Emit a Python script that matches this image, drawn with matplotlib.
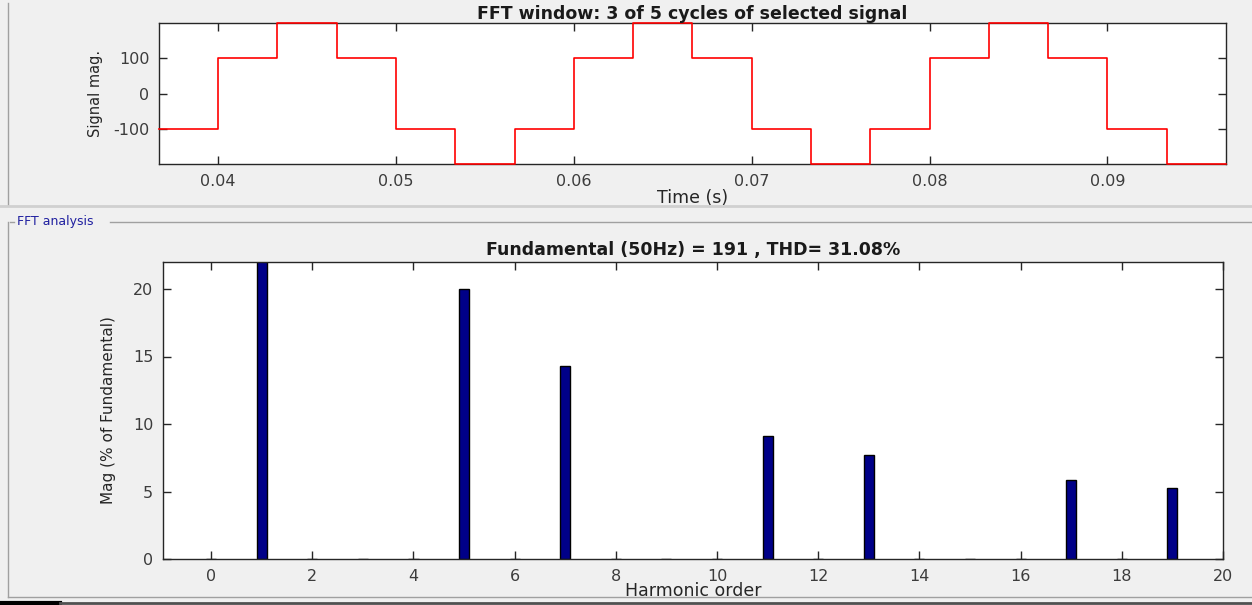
import matplotlib
matplotlib.use('Agg')
import matplotlib.pyplot as plt
from matplotlib.lines import Line2D

plt.rcParams['font.family'] = ['DejaVu Sans']
plt.rcParams['axes.unicode_minus'] = False

# signal in the FFT window (3 cycles of 50 Hz, six-step wave)
step_times = [0.03667, 0.04, 0.04333, 0.04667, 0.05, 0.05333, 0.05667,
              0.06, 0.06333, 0.06667, 0.07, 0.07333, 0.07667,
              0.08, 0.08333, 0.08667, 0.09, 0.09333, 0.09667]
step_levels = [-100, 100, 200, 100, -100, -200, -100,
               100, 200, 100, -100, -200, -100,
               100, 200, 100, -100, -200, -200]
time_ticks = [0.04, 0.05, 0.06, 0.07, 0.08, 0.09]
time_ticklabels = ['0.04', '0.05', '0.06', '0.07', '0.08', '0.09']

# harmonic spectrum, % of fundamental
harm_order = [0, 1, 2, 3, 4, 5, 6, 7, 8, 9, 10, 11, 12, 13, 14, 15, 16, 17, 18, 19]
harm_mag = [0, 100, 0, 0, 0, 20.0, 0, 14.29, 0, 0, 0, 9.09, 0, 7.69, 0, 0, 0, 5.88, 0, 5.26]

W, H = 1252, 605
bg = '#f0f0f0'
axcol = '#262626'
tickcol = '#3c3c3c'

fig = plt.figure(figsize=(W / 100, H / 100), dpi=100, facecolor=bg)


def px(x0, y0, x1, y1):
    return [x0 / W, 1 - y0 / H, (x1 - x0) / W, (y0 - y1) / H]


def style(ax):
    ax.set_facecolor('white')
    for s in ax.spines.values():
        s.set_color(axcol)
        s.set_linewidth(1.0)
    ax.tick_params(direction='in', length=6, width=1, color=axcol,
                   top=True, right=True, labelsize=11.5, labelcolor=tickcol, pad=7)


def fline(x0, y0, x1, y1, color, lw=1.0):
    fig.add_artist(Line2D([x0 / W, x1 / W], [1 - y0 / H, 1 - y1 / H],
                          transform=fig.transFigure, color=color, lw=lw))


# top: signal window
ax1 = fig.add_axes(px(159, 164, 1226, 23))
style(ax1)
ax1.step(step_times, step_levels, where='post', color='red', lw=1.2,
         zorder=3, clip_on=False)
ax1.set_xlim(0.03667, 0.09667)
ax1.set_ylim(-200, 200)
ax1.set_xticks(time_ticks)
ax1.set_xticklabels(time_ticklabels)
ax1.set_yticks([-100, 0, 100])
ax1.set_xlabel('Time (s)', fontsize=12.5, color=axcol, labelpad=0)
ax1.set_ylabel('Signal mag.', fontsize=10.5, color=axcol, labelpad=7)
ax1.set_title('FFT window: 3 of 5 cycles of selected signal',
              fontsize=12.5, fontweight='bold', color='#1a1a1a', pad=3)

# bottom: harmonic bars
ax2 = fig.add_axes(px(163, 559, 1223, 262))
style(ax2)
ax2.bar(harm_order, harm_mag, width=0.2, color='#000088', edgecolor='black', lw=1.0)
ax2.set_xlim(-0.95, 20)
ax2.set_ylim(0, 22)
ax2.set_xticks(range(0, 21, 2))
ax2.set_yticks([0, 5, 10, 15, 20])
ax2.set_xlabel('Harmonic order', fontsize=12.5, color=axcol, labelpad=-1)
ax2.set_ylabel('Mag (% of Fundamental)', fontsize=11, color=axcol, labelpad=12)
ax2.set_title('Fundamental (50Hz) = 191 , THD= 31.08%',
              fontsize=12.5, fontweight='bold', color='#1a1a1a', pad=5)

# panel frames
fline(8, 3, 8, 205, '#a0a0a0')
fline(0, 206, W, 206, '#d0d0d0', lw=2)
fline(10, 222, 14, 222, '#a0a0a0')
fline(110, 222, W, 222, '#a0a0a0')
fline(8, 222, 8, 597, '#a0a0a0')
fline(8, 597, W, 597, '#a0a0a0')
fline(0, 603, 60, 603, 'black', lw=3)
fline(60, 603, W, 603, '#505050', lw=2)
fig.text(17 / W, 1 - 222 / H, 'FFT analysis', fontsize=9, color='#2020a0',
         va='center', ha='left')

fig.savefig('out.png', dpi=100, facecolor=bg)
